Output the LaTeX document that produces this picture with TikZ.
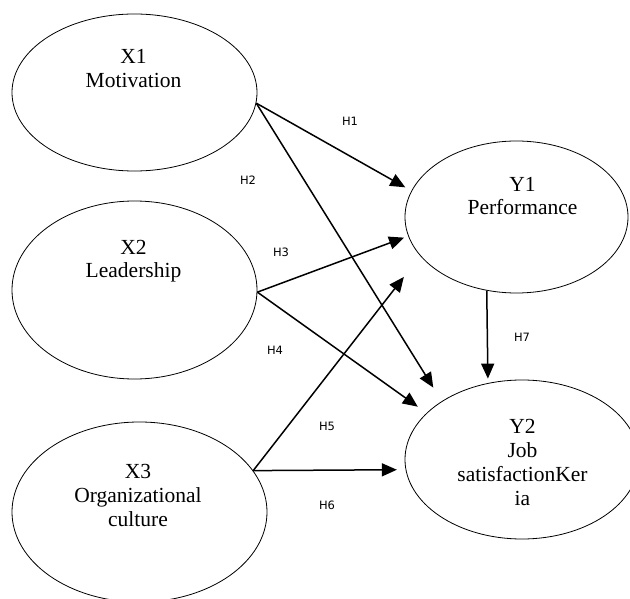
\documentclass[tikz,border=0pt]{standalone}
\usepackage{fontspec}
\setmainfont{Liberation Serif}
\newfontfamily\hypfont{DejaVu Sans}
\usetikzlibrary{positioning,arrows.meta,shapes.geometric}

\begin{document}
\begin{tikzpicture}[
    x=1pt, y=-1pt,
    latent/.style={draw, ellipse, line width=0.8pt, inner sep=0pt},
    vname/.style={anchor=base, align=center, inner sep=0pt, font=\fontsize{21.5}{24}\selectfont},
    hyp/.style={inner sep=0pt, font=\hypfont\fontsize{11.5}{12}\selectfont},
    arr/.style={-{Triangle[length=15pt,width=13pt]}, line width=1.5pt}
]
\useasboundingbox (0,0) rectangle (630,599);

\node[latent, minimum width=245pt, minimum height=157pt] (x1) at (134.5,92.5) {};
\node[latent, minimum width=245pt, minimum height=178pt] (x2) at (134.5,290) {};
\node[latent, minimum width=255pt, minimum height=180pt] (x3) at (139.5,512) {};
\node[latent, minimum width=223pt, minimum height=152pt] (y1) at (516.5,217) {};
\node[latent, minimum width=234pt, minimum height=159pt] (y2) at (522,459.5) {};

\node[vname] (x1t) at (133.5,88) {X1\\Motivation};
\node[vname] (x2t) at (133.5,278) {X2\\Leadership};
\node[vname] (x3t) at (138,526) {X3\\Organizational\\culture};
\node[vname] (y1t) at (522.5,215) {Y1\\Performance};
\node[vname] (y2t) at (522.5,505) {Y2\\Job\\satisfactionKer\\ia};

\draw[arr, shorten >=7pt] (x1.-5) -- (y1.166.9);
\draw[arr, shorten >=16pt] (x1.-5) -- (y2.144.3);
\draw[arr, shorten >=4.4pt] (x2.-1.4) -- (y1.190.8);
\draw[arr, shorten >=10.8pt] (x2.-1.4) -- (y2.154.1);
\draw[arr, shorten >=26.6pt] (x3.20.5) -- (y1.202.3);
\draw[arr, shorten >=8.7pt] (x3.20.5) -- (y2.185);
\draw[arr, shorten >=4.4pt] (y1.248.8) -- (y2.114.1);

\node[hyp] (h1) at (350,121) {H1};
\node[hyp] (h2) at (248,180) {H2};
\node[hyp] (h3) at (281,252) {H3};
\node[hyp] (h4) at (275,350) {H4};
\node[hyp] (h5) at (327,426) {H5};
\node[hyp] (h6) at (327,505) {H6};
\node[hyp] (h7) at (522,337) {H7};

\end{tikzpicture}
\end{document}
